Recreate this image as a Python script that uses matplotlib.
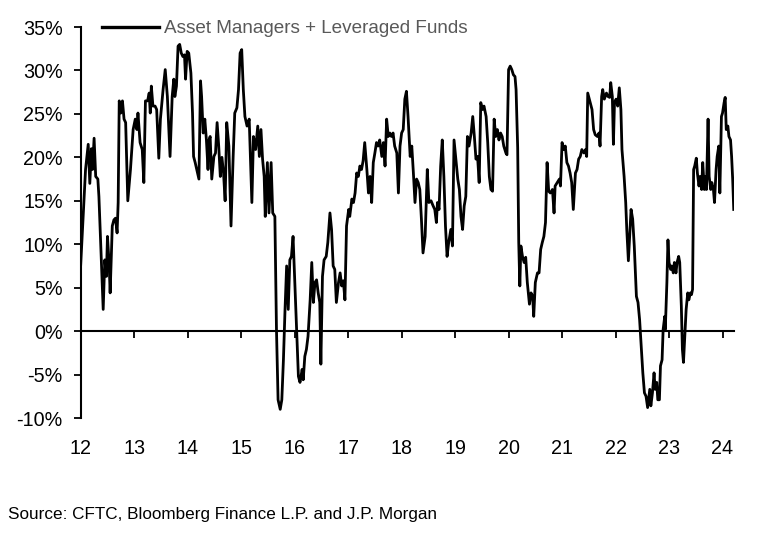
import matplotlib
matplotlib.use("Agg")
import matplotlib.pyplot as plt
from matplotlib.ticker import FuncFormatter

plt.rcParams['font.family'] = ['Liberation Sans', 'DejaVu Sans']

# Decimal year (e.g. 12.50 = mid-2012) and net positioning (% of open interest)
dates = [
    12.00, 12.09, 12.14, 12.17, 12.20, 12.22, 12.25, 12.28, 12.32, 12.34, 12.37, 12.42, 12.45, 12.48, 12.50,
    12.53, 12.55, 12.59, 12.62, 12.65, 12.68, 12.70, 12.72, 12.75, 12.78, 12.81, 12.84, 12.88, 12.93, 12.98,
    13.02, 13.05, 13.07, 13.11, 13.15, 13.18, 13.21, 13.25, 13.28, 13.30, 13.32, 13.35, 13.39, 13.42, 13.46,
    13.49, 13.54, 13.58, 13.62, 13.67, 13.71, 13.74, 13.76, 13.79, 13.82, 13.85, 13.88, 13.91, 13.94, 13.96,
    13.99, 14.02, 14.06, 14.09, 14.11, 14.14, 14.17, 14.21, 14.24, 14.26, 14.29, 14.32, 14.35, 14.38, 14.40,
    14.42, 14.45, 14.49, 14.52, 14.55, 14.58, 14.61, 14.64, 14.67, 14.70, 14.73, 14.77, 14.81, 14.85, 14.88,
    14.92, 14.95, 14.98, 15.01, 15.04, 15.07, 15.11, 15.15, 15.20, 15.23, 15.27, 15.31, 15.34, 15.37, 15.40,
    15.43, 15.45, 15.49, 15.52, 15.56, 15.59, 15.63, 15.66, 15.69, 15.73, 15.76, 15.79, 15.82, 15.85, 15.88,
    15.91, 15.94, 15.97, 16.01, 16.04, 16.07, 16.10, 16.14, 16.16, 16.19, 16.22, 16.25, 16.29, 16.32, 16.35,
    16.38, 16.41, 16.44, 16.47, 16.49, 16.52, 16.55, 16.59, 16.62, 16.66, 16.69, 16.72, 16.75, 16.78, 16.82,
    16.85, 16.88, 16.91, 16.94, 16.97, 17.01, 17.03, 17.07, 17.10, 17.13, 17.16, 17.19, 17.22, 17.25, 17.28,
    17.31, 17.35, 17.38, 17.41, 17.44, 17.47, 17.50, 17.53, 17.56, 17.59, 17.63, 17.66, 17.69, 17.72, 17.75,
    17.78, 17.81, 17.84, 17.87, 17.91, 17.94, 17.97, 18.00, 18.03, 18.06, 18.09, 18.12, 18.16, 18.19, 18.22,
    18.25, 18.28, 18.31, 18.34, 18.37, 18.40, 18.44, 18.48, 18.51, 18.55, 18.59, 18.62, 18.65, 18.67, 18.70,
    18.73, 18.76, 18.79, 18.82, 18.85, 18.88, 18.92, 18.95, 18.98, 19.02, 19.05, 19.08, 19.11, 19.14, 19.17,
    19.20, 19.23, 19.26, 19.30, 19.33, 19.36, 19.39, 19.42, 19.45, 19.48, 19.51, 19.54, 19.58, 19.61, 19.64,
    19.67, 19.70, 19.73, 19.76, 19.79, 19.82, 19.85, 19.88, 19.91, 19.95, 19.97, 20.00, 20.03, 20.06, 20.09,
    20.12, 20.14, 20.17, 20.19, 20.21, 20.23, 20.26, 20.29, 20.32, 20.35, 20.39, 20.42, 20.45, 20.47, 20.50,
    20.54, 20.57, 20.60, 20.63, 20.66, 20.69, 20.72, 20.75, 20.78, 20.82, 20.85, 20.87, 20.91, 20.95, 20.97,
    21.00, 21.03, 21.06, 21.09, 21.12, 21.15, 21.18, 21.21, 21.25, 21.28, 21.31, 21.34, 21.37, 21.41, 21.44,
    21.46, 21.48, 21.51, 21.56, 21.59, 21.62, 21.66, 21.69, 21.71, 21.74, 21.76, 21.79, 21.83, 21.86, 21.89,
    21.91, 21.94, 21.96, 21.98, 22.01, 22.04, 22.07, 22.10, 22.12, 22.16, 22.19, 22.21, 22.24, 22.27, 22.29,
    22.32, 22.35, 22.39, 22.42, 22.45, 22.48, 22.51, 22.54, 22.57, 22.60, 22.64, 22.66, 22.69, 22.72, 22.74,
    22.77, 22.79, 22.82, 22.84, 22.87, 22.89, 22.92, 22.93, 22.96, 22.98, 23.00, 23.03, 23.05, 23.08, 23.10,
    23.13, 23.15, 23.18, 23.20, 23.23, 23.25, 23.27, 23.30, 23.32, 23.35, 23.37, 23.40, 23.42, 23.44, 23.46,
    23.48, 23.51, 23.53, 23.56, 23.58, 23.61, 23.63, 23.66, 23.68, 23.70, 23.73, 23.75, 23.78, 23.80, 23.83,
    23.85, 23.88, 23.90, 23.93, 23.95, 23.98, 24.00, 24.03, 24.05, 24.07, 24.10, 24.12, 24.15, 24.17, 24.19,
    24.21,
]

values = [
    7.7, 18.6, 21.5, 17.0, 21.0, 18.6, 22.2, 17.8, 17.5, 15.5, 10.5, 2.5, 8.2, 6.3, 10.9,
    7.9, 4.4, 12.1, 12.8, 13.0, 11.3, 14.8, 26.5, 25.1, 26.5, 24.4, 24.0, 15.0, 18.6, 23.2,
    24.4, 23.2, 25.1, 21.7, 20.9, 17.1, 26.5, 26.5, 27.4, 25.1, 28.2, 25.9, 25.9, 25.5, 19.9,
    24.4, 27.8, 30.1, 27.0, 20.1, 27.0, 29.0, 27.0, 28.2, 32.8, 33.0, 32.0, 31.6, 31.8, 29.0,
    32.2, 32.0, 29.7, 25.1, 20.1, 19.4, 18.6, 17.5, 28.8, 27.0, 22.8, 24.4, 22.0, 18.6, 22.0,
    22.4, 17.5, 20.1, 20.5, 24.0, 21.3, 17.8, 20.0, 18.2, 15.0, 24.0, 21.3, 12.1, 20.1, 25.1,
    25.7, 27.8, 32.0, 32.4, 27.8, 24.7, 23.6, 24.4, 14.8, 22.4, 20.9, 23.6, 20.1, 23.2, 19.8,
    17.8, 13.2, 19.4, 13.6, 19.4, 13.6, 13.2, 0.2, -7.9, -9.0, -7.9, -3.3, 2.5, 7.5, 2.5,
    8.2, 8.6, 10.9, 4.4, -0.6, -5.2, -5.9, -4.4, -5.6, -2.9, -2.1, -0.6, 3.6, 7.9, 3.3,
    5.6, 5.9, 4.4, 3.3, -3.8, 6.3, 8.2, 8.6, 10.2, 13.6, 11.7, 7.5, 7.1, 3.3, 5.6,
    6.7, 5.2, 5.8, 3.6, 12.1, 14.0, 13.2, 15.2, 14.8, 15.9, 18.2, 17.8, 19.0, 18.6, 19.6,
    21.7, 18.6, 15.9, 17.8, 14.8, 19.4, 20.5, 21.7, 21.3, 22.0, 20.1, 21.7, 19.0, 24.4, 22.4,
    22.8, 22.4, 22.8, 21.3, 20.5, 15.9, 21.3, 22.8, 23.2, 26.7, 27.6, 24.7, 20.1, 21.3, 18.2,
    14.8, 17.5, 17.1, 16.3, 12.9, 9.0, 10.9, 18.6, 14.8, 15.0, 14.4, 14.0, 12.5, 14.8, 14.0,
    19.0, 22.0, 17.8, 12.1, 8.6, 10.2, 11.7, 9.8, 22.0, 19.4, 17.5, 16.3, 13.2, 11.7, 14.4,
    15.5, 22.4, 21.3, 22.8, 24.7, 22.4, 19.8, 20.1, 17.1, 26.3, 25.5, 25.9, 24.7, 21.7, 17.8,
    16.3, 16.1, 24.4, 22.4, 23.2, 22.0, 22.8, 22.4, 21.3, 20.5, 20.3, 30.1, 30.5, 30.1, 29.5,
    29.3, 27.8, 21.1, 10.2, 5.2, 9.8, 8.6, 7.9, 8.5, 5.6, 3.1, 4.4, 4.0, 1.7, 5.6,
    6.7, 6.7, 9.4, 10.2, 10.9, 12.5, 19.4, 16.1, 15.9, 16.3, 13.6, 16.7, 17.1, 17.5, 16.7,
    21.7, 20.9, 21.3, 19.4, 19.0, 18.2, 17.1, 14.0, 18.2, 18.6, 19.8, 20.1, 20.9, 20.5, 20.9,
    20.1, 27.4, 26.7, 25.5, 23.2, 22.6, 22.4, 22.8, 21.3, 27.0, 27.8, 26.7, 27.4, 27.0, 26.9,
    28.6, 27.0, 21.5, 26.3, 26.7, 25.9, 28.0, 25.5, 20.9, 17.8, 14.8, 11.7, 8.1, 11.7, 14.0,
    12.9, 9.8, 4.0, 3.3, 1.3, -1.7, -4.8, -7.1, -7.5, -8.8, -6.7, -8.6, -7.1, -4.8, -6.7,
    -5.9, -7.9, -7.9, -4.0, -3.3, 0.2, 1.7, 0.2, 5.6, 10.5, 7.9, 7.1, 7.5, 6.7, 7.9,
    6.7, 7.9, 8.6, 7.9, 2.9, -2.1, -3.6, 0.2, 2.5, 4.4, 3.6, 4.4, 4.2, 4.8, 18.6,
    19.0, 19.9, 18.2, 16.7, 17.8, 16.3, 19.4, 16.3, 17.8, 16.3, 24.4, 17.8, 16.3, 17.1, 16.3,
    14.8, 18.6, 20.1, 21.3, 15.9, 24.7, 25.1, 26.3, 26.9, 23.2, 23.6, 22.4, 22.0, 20.1, 17.5,
    14.0,
]

series_label = "Asset Managers + Leveraged Funds"
source_text = "Source: CFTC, Bloomberg Finance L.P. and J.P. Morgan"
x_ticks = list(range(12, 25))
x_tick_labels = [str(t) for t in x_ticks]
y_ticks = list(range(-10, 40, 5))

fig = plt.figure(figsize=(7.58, 5.48), dpi=100)
ax = fig.add_axes([0.1065, 0.2372, 0.8615, 0.7135])

ax.plot(dates, values, color='black', linewidth=2.0, solid_joinstyle='round',
        label=series_label)

ax.set_xlim(12, 24.21)
ax.set_ylim(-10, 35)

ax.set_yticks(y_ticks)
ax.yaxis.set_major_formatter(FuncFormatter(lambda v, p: f"{int(v)}%"))
ax.set_xticks(x_ticks)
ax.set_xticklabels(x_tick_labels)

for s in ['top', 'right']:
    ax.spines[s].set_visible(False)
ax.spines['left'].set_linewidth(1.5)
ax.spines['bottom'].set_position(('data', 0))
ax.spines['bottom'].set_linewidth(1.5)

ax.tick_params(axis='y', direction='out', length=5, width=1.3, labelsize=14.2, pad=8)
ax.tick_params(axis='x', direction='out', length=5, width=1.3, labelsize=14.2, pad=73)

leg = ax.legend(loc='upper left', bbox_to_anchor=(0.021, 1.037), frameon=False,
                handlelength=3.0, handletextpad=0.3, fontsize=13.6, borderaxespad=0)
for t in leg.get_texts():
    t.set_color('#595959')
for l in leg.get_lines():
    l.set_linewidth(2.4)

fig.text(0.011, 0.062, source_text, fontsize=12.3, ha='left', va='center')

fig.savefig('out.png', dpi=100)
